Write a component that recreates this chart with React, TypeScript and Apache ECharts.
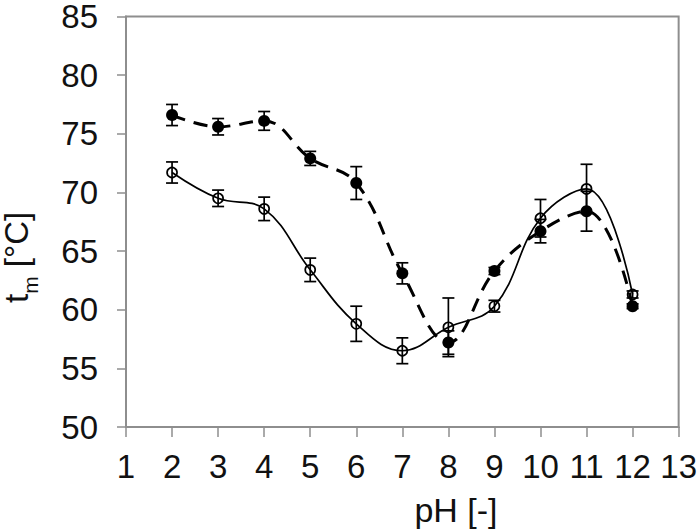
import React, { useEffect, useRef } from "react";
import * as echarts from "echarts";

const phValues = [2, 3, 4, 5, 6, 7, 8, 9, 10, 11, 12];
const filledTm = [76.6, 75.6, 76.1, 72.9, 70.8, 63.1, 57.2, 63.3, 66.7, 68.4, 60.3];
const filledErr = [0.9, 0.7, 0.8, 0.6, 1.4, 0.9, 1.0, 0.3, 1.0, 1.7, 0.2];
const hollowTm = [71.7, 69.5, 68.6, 63.4, 58.8, 56.5, 58.5, 60.3, 67.8, 70.3, 61.3];
const hollowErr = [0.9, 0.7, 1.0, 1.0, 1.5, 1.1, 2.5, 0.5, 1.6, 2.1, 0.3];
const xTicks = { min: 1, max: 13, interval: 1 };
const yTicks = { min: 50, max: 85, interval: 5 };
const xTitle = "pH [-]";
const yTitleMain = "t";
const yTitleSub = "m";
const yTitleRest = " [°C]";

const FONT = "'Liberation Sans', Arial, sans-serif";
const AXIS_GRAY = "#8e8e8e";
const TEXT = "#111111";

function errData(vals: number[], errs: number[]) {
  return phValues.map((x, i) => [x, vals[i] - errs[i], vals[i] + errs[i]]);
}

function renderErr(params: any, api: any) {
  const x = api.value(0);
  const lo = api.coord([x, api.value(1)]);
  const hi = api.coord([x, api.value(2)]);
  const w = 6;
  const style = { stroke: "#000", lineWidth: 1.7, fill: "none" };
  return {
    type: "group",
    children: [
      { type: "line", shape: { x1: lo[0], y1: lo[1], x2: hi[0], y2: hi[1] }, style },
      { type: "line", shape: { x1: lo[0] - w, y1: lo[1], x2: lo[0] + w, y2: lo[1] }, style },
      { type: "line", shape: { x1: hi[0] - w, y1: hi[1], x2: hi[0] + w, y2: hi[1] }, style },
    ],
  };
}

export default function App() {
  const ref = useRef<HTMLDivElement>(null);
  useEffect(() => {
    if (!ref.current) return;
    const chart = echarts.init(ref.current, undefined, { renderer: "svg" });
    const axisCommon = {
      axisLine: { show: true, lineStyle: { color: AXIS_GRAY, width: 2 } },
      splitLine: { show: false },
    };
    chart.setOption({
      animation: false,
      backgroundColor: "#ffffff",
      grid: {
        left: 126,
        right: 18,
        top: 14,
        bottom: 104,
        show: true,
        borderColor: AXIS_GRAY,
        borderWidth: 2,
        containLabel: false,
      },
      xAxis: {
        type: "value",
        min: xTicks.min,
        max: xTicks.max,
        interval: xTicks.interval,
        ...axisCommon,
        axisTick: { show: true, inside: false, length: 10, lineStyle: { color: AXIS_GRAY, width: 1.5 } },
        axisLabel: { margin: 23, color: TEXT, fontSize: 33, fontFamily: FONT },
      },
      yAxis: {
        type: "value",
        min: yTicks.min,
        max: yTicks.max,
        interval: yTicks.interval,
        ...axisCommon,
        axisTick: { show: true, inside: false, length: 9, lineStyle: { color: AXIS_GRAY, width: 1.5 } },
        axisLabel: { margin: 28, color: TEXT, fontSize: 33, lineHeight: 26, fontFamily: FONT },
      },
      graphic: [
        {
          type: "text",
          x: 456,
          y: 510,
          style: {
            text: xTitle,
            fill: TEXT,
            font: `34px ${FONT}`,
            align: "center",
            verticalAlign: "middle",
          },
        },
        {
          type: "group",
          x: 28,
          y: 255,
          rotation: Math.PI / 2,
          children: [
            {
              type: "text",
              x: -48,
              y: -11.5,
              style: { text: yTitleMain, fill: TEXT, font: `33px ${FONT}`, lineHeight: 26, align: "left", verticalAlign: "middle" },
            },
            {
              type: "text",
              x: -38.8,
              y: 2.6,
              style: { text: yTitleSub, fill: TEXT, font: `21px ${FONT}`, lineHeight: 18, align: "left", verticalAlign: "middle" },
            },
            {
              type: "text",
              x: -21.3,
              y: -11.5,
              style: { text: yTitleRest, fill: TEXT, font: `33px ${FONT}`, lineHeight: 26, align: "left", verticalAlign: "middle" },
            },
          ],
        },
      ],
      series: [
        {
          type: "line",
          name: "hollow",
          data: phValues.map((x, i) => [x, hollowTm[i]]),
          smooth: 0.4,
          lineStyle: { color: "#000", width: 1.7, type: "solid" },
          symbol: "circle",
          symbolSize: 10,
          itemStyle: { color: "rgba(0,0,0,0)", borderColor: "#000", borderWidth: 1.7 },
          z: 3,
        },
        {
          type: "line",
          name: "filled",
          data: phValues.map((x, i) => [x, filledTm[i]]),
          smooth: 0.4,
          lineStyle: { color: "#000", width: 3, type: [14, 9] },
          symbol: "circle",
          symbolSize: 12,
          itemStyle: { color: "#000", borderColor: "#000", borderWidth: 0 },
          z: 4,
        },
        {
          type: "custom",
          name: "filledErr",
          data: errData(filledTm, filledErr),
          renderItem: renderErr,
          z: 5,
        },
        {
          type: "custom",
          name: "hollowErr",
          data: errData(hollowTm, hollowErr),
          renderItem: renderErr,
          z: 5,
        },
      ],
    });
    return () => chart.dispose();
  }, []);
  return (
    <div
      ref={ref}
      style={{ position: "absolute", left: 0, top: 0, width: 700, height: 531, background: "#fff" }}
    />
  );
}
